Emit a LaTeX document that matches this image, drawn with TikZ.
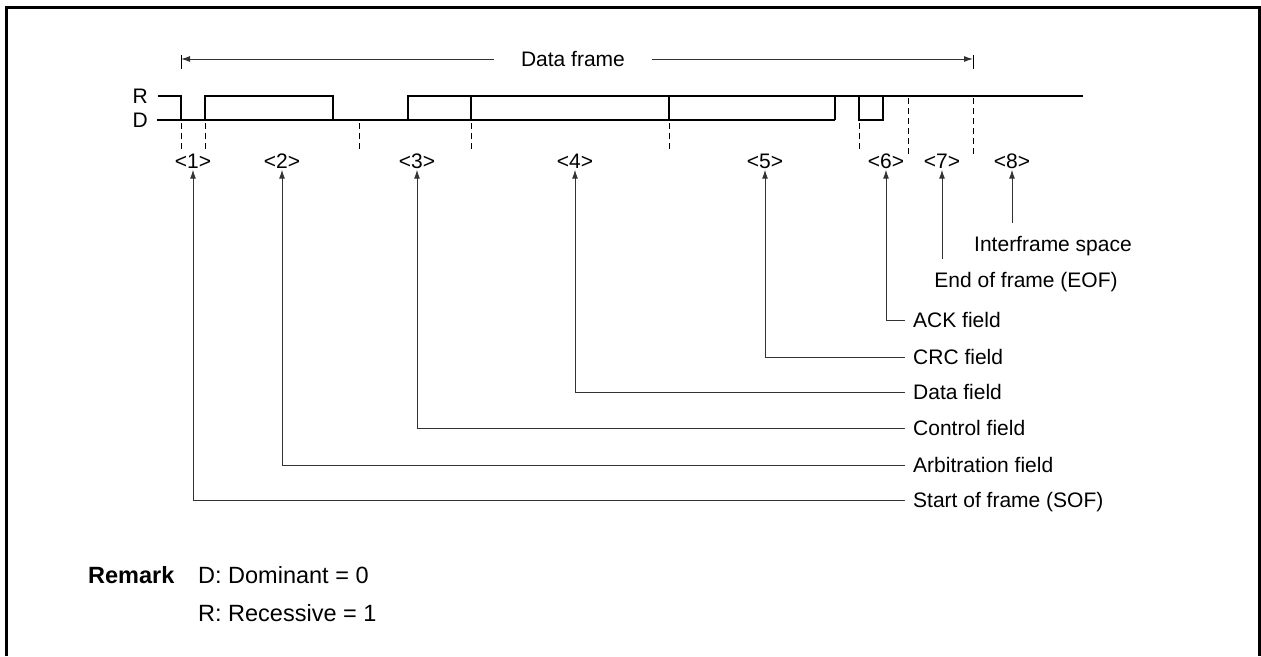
\documentclass[tikz,border=0pt]{standalone}
\usepackage{fontspec}
\setmainfont{Liberation Sans}
\usetikzlibrary{arrows.meta,positioning,calc}
\tikzset{
  lbl/.style={inner sep=0pt,text height=16pt,text depth=1pt},
  fieldtxt/.style={lbl,anchor=west,inner xsep=8pt},
  endtxt/.style={lbl,inner ysep=12pt},
  remtxt/.style={inner sep=0pt,anchor=west,text height=17pt,text depth=1pt,
    font=\fontsize{23.5pt}{28pt}\selectfont},
  sig/.style={line width=2.5pt,line join=miter},
  tickln/.style={line width=1pt,dash pattern=on 6pt off 4pt},
  callout/.style={line width=1pt,black!80,-{Latex[length=9pt,width=6pt]}},
}

\begin{document}
\begin{tikzpicture}[x=1pt,y=-1pt,font=\fontsize{21pt}{25pt}\selectfont]
  \useasboundingbox (0,0) rectangle (1261,656);
  % outer frame (open at the bottom)
  \draw[line width=3.5pt] (6.5,656) -- (6.5,7.5) -- (1259.5,7.5) -- (1259.5,656);

  % bus levels: R = recessive (y=96), D = dominant (y=120)
  \node[lbl,anchor=east] (rlbl) at (148,96) {R};
  \node[lbl,anchor=east] (dlbl) at (148,120) {D};
  \draw[sig] (157,120) -- (835,120);
  \draw[sig] (158,96) -- (181,96) -- (181,120);
  \draw[sig] (205,120) -- (205,96) -- (333,96) -- (333,120);
  \draw[sig] (408,120) -- (408,96) -- (1083,96);
  \foreach \x in {471,669,835}{
    \draw[sig] (\x,96) -- (\x,120);}
  % ACK slot
  \draw[sig] (859,96) -- (859,120) -- (883,120) -- (883,96);

  % field borders (dashed)
  \foreach \x in {181,205,359,471,669,859}{
    \draw[tickln] (\x,123) -- (\x,151);}
  \foreach \x in {908,973}{
    \draw[tickln] (\x,98) -- (\x,156);}

  % data frame span
  \node[lbl,inner xsep=27pt] (dframe) at (573,59) {Data frame};
  \coordinate (dfl) at (181,59);
  \coordinate (dfr) at (973,59);
  \draw[callout] (dframe.west) -- (dfl);
  \draw[callout] (dframe.east) -- (dfr);
  \draw[line width=1pt] ([yshift=4pt]dfl) -- ([yshift=-10pt]dfl);
  \draw[line width=1pt] ([yshift=4pt]dfr) -- ([yshift=-10pt]dfr);

  % field numbers
  \foreach \n/\x in {1/193,2/282,3/417,4/575,5/765,6/886,7/942,8/1012}{
    \node[lbl] (f\n) at (\x,161) {<\n>};}

  % field names
  \node[fieldtxt] (sof)  at (905,500) {Start of frame (SOF)};
  \node[fieldtxt] (arb)  at (905,465) {Arbitration field};
  \node[fieldtxt] (ctrl) at (905,428) {Control field};
  \node[fieldtxt] (data) at (905,392) {Data field};
  \node[fieldtxt] (crc)  at (905,357) {CRC field};
  \node[fieldtxt] (ack)  at (905,320) {ACK field};
  \node[endtxt] (eof)  at (1026,280) {End of frame (EOF)};
  \node[endtxt] (ifs)  at (1053,244) {Interframe space};

  % callouts
  \draw[callout] (sof.west)  -| (f1.south);
  \draw[callout] (arb.west)  -| (f2.south);
  \draw[callout] (ctrl.west) -| (f3.south);
  \draw[callout] (data.west) -| (f4.south);
  \draw[callout] (crc.west)  -| (f5.south);
  \draw[callout] (ack.west)  -| (f6.south);
  \draw[callout] (f7.south |- eof.north) -- (f7.south);
  \draw[callout] (f8.south |- ifs.north) -- (f8.south);

  % remark
  \node[remtxt] (rem) at (88,575) {\textbf{Remark}};
  \node[remtxt] (remd) at (198,575) {D: Dominant = 0};
  \node[remtxt] (remr) at (198,613) {R: Recessive = 1};
\end{tikzpicture}
\end{document}
